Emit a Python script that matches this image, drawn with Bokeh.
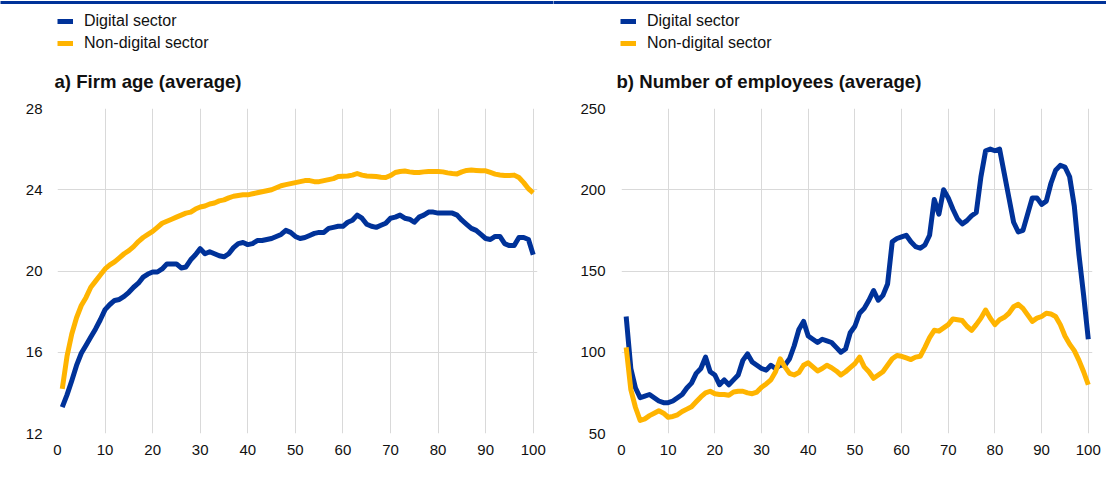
from bokeh.plotting import figure
from bokeh.models import Label, Legend, LegendItem, BoxAnnotation, FixedTicker, Range1d
from bokeh.layouts import row, column
from bokeh.embed import file_html
from bokeh.resources import INLINE

# ---------------- data ----------------
percentile = list(range(1, 101))

age_digital = [13.3, 13.9, 14.6, 15.35, 15.95, 16.35, 16.75, 17.15, 17.6, 18.1,
               18.35, 18.55, 18.6, 18.75, 18.95, 19.2, 19.4, 19.7, 19.85, 19.95,
               19.95, 20.1, 20.35, 20.35, 20.35, 20.15, 20.2, 20.55, 20.8, 21.1,
               20.85, 20.95, 20.85, 20.75, 20.7, 20.85, 21.15, 21.35, 21.4, 21.3,
               21.35, 21.5, 21.5, 21.55, 21.6, 21.7, 21.8, 22.0, 21.9, 21.7,
               21.6, 21.65, 21.75, 21.85, 21.9, 21.9, 22.1, 22.15, 22.2, 22.2,
               22.4, 22.5, 22.75, 22.6, 22.3, 22.2, 22.15, 22.25, 22.35, 22.6,
               22.65, 22.75, 22.6, 22.55, 22.4, 22.65, 22.75, 22.9, 22.9, 22.85,
               22.85, 22.85, 22.85, 22.75, 22.5, 22.3, 22.1, 22.0, 21.8, 21.6,
               21.55, 21.7, 21.7, 21.35, 21.25, 21.25, 21.65, 21.65, 21.55, 20.8]

age_nondigital = [14.2, 15.8, 16.9, 17.7, 18.3, 18.7, 19.2, 19.5, 19.8, 20.1,
                  20.3, 20.45, 20.65, 20.85, 21.0, 21.2, 21.45, 21.65, 21.8, 21.95,
                  22.15, 22.35, 22.45, 22.55, 22.65, 22.75, 22.85, 22.9, 23.05, 23.15,
                  23.2, 23.3, 23.35, 23.45, 23.5, 23.6, 23.68, 23.72, 23.75, 23.75,
                  23.8, 23.85, 23.9, 23.95, 24.0, 24.1, 24.2, 24.25, 24.3, 24.35,
                  24.4, 24.45, 24.45, 24.4, 24.4, 24.45, 24.5, 24.55, 24.65, 24.67,
                  24.68, 24.72, 24.8, 24.72, 24.68, 24.67, 24.65, 24.62, 24.6, 24.7,
                  24.85, 24.9, 24.92, 24.88, 24.85, 24.85, 24.88, 24.9, 24.9, 24.9,
                  24.88, 24.83, 24.8, 24.78, 24.88, 24.95, 24.97, 24.95, 24.93, 24.93,
                  24.85, 24.77, 24.73, 24.7, 24.7, 24.72, 24.6, 24.35, 24.05, 23.85]

emp_digital = [122, 90, 78, 72, 73, 74, 72, 70, 69, 69,
               70, 72, 74, 78, 81, 87, 90, 97, 88, 86,
               80, 83, 80, 83, 86, 95, 99, 94, 92, 90,
               89, 92, 90, 92, 92, 96, 104, 114, 119, 110,
               108, 106, 108, 107, 106, 103, 100, 102, 112, 116,
               124, 127, 132, 138, 132, 135, 142, 168, 170, 171,
               172, 168, 165, 164, 166, 172, 194, 185, 200, 195,
               188, 182, 179, 181, 184, 186, 208, 224, 225, 224,
               225, 210, 195, 180, 174, 175, 185, 195, 195, 191,
               193, 204, 212, 215, 214, 208, 190, 160, 135, 108]

emp_nondigital = [103, 77, 66, 58, 59, 61, 62.5, 64, 62.5, 60,
                  60.5, 61.5, 63.5, 65, 66.5, 69.5, 72.5, 75, 76, 74.5,
                  74, 74, 73.5, 75.5, 76, 76, 75, 74.5, 75.5, 78.5,
                  80.5, 83, 88, 96, 91, 87, 86, 87.5, 92, 93.5,
                  91, 88.5, 90, 92, 90.5, 88.5, 86, 88, 90.5, 93,
                  97, 91, 88, 84, 86, 88, 92, 96, 98, 97.5,
                  96.5, 95.5, 97, 97.5, 103, 109, 113.5, 113, 115, 117,
                  120.5, 120, 119.5, 116, 113.5, 117, 121, 126, 121, 117,
                  120, 121.5, 124, 128, 129.5, 127, 123, 119, 121, 122,
                  124, 123.5, 122, 117, 110, 105, 101, 95, 88, 80]

series_names = ["Digital sector", "Non-digital sector"]
panel_titles = ["a) Firm age (average)", "b) Number of employees (average)"]
x_ticks = list(range(0, 101, 10))
age_ticks = [12, 16, 20, 24, 28]
emp_ticks = [50, 100, 150, 200, 250]

BLUE = "#003299"
YELLOW = "#FFB400"
FONT = "Liberation Sans"
GRID = "#d9d9d9"
TEXT = "#111111"

PANEL_W = 553
HEAD_H = 100
MAIN_H = 379
FRAME_H = 325
TOP = 8
BOTTOM = MAIN_H - FRAME_H - TOP


def make_header(title, legend_x, title_x):
    h = figure(width=PANEL_W, height=HEAD_H, output_backend="svg", toolbar_location=None,
               x_range=Range1d(0, PANEL_W), y_range=Range1d(0, HEAD_H),
               x_axis_type=None, y_axis_type=None, frame_align=False,
               min_border=0, min_border_left=0, min_border_right=0,
               min_border_top=0, min_border_bottom=0)
    h.outline_line_color = None
    h.grid.visible = False
    h.background_fill_color = "white"
    h.border_fill_color = "white"

    # rule across the top of the chart
    h.add_layout(BoxAnnotation(left=-10, right=PANEL_W + 10, top=99.5, bottom=96.6,
                               fill_color=BLUE, fill_alpha=1, line_color=None))

    # legend swatch renderers (placed outside the visible range)
    d1 = h.line([-20, -10], [-20, -20], line_color=BLUE, line_width=5)
    d2 = h.line([-20, -10], [-20, -20], line_color=YELLOW, line_width=5)
    legend = Legend(items=[LegendItem(label=series_names[0], renderers=[d1]),
                           LegendItem(label=series_names[1], renderers=[d2])],
                    location=(legend_x, 47), orientation="vertical",
                    border_line_color=None, background_fill_alpha=0,
                    padding=0, margin=0, spacing=2,
                    glyph_width=16, glyph_height=20, label_height=20,
                    label_standoff=11, label_text_font=FONT,
                    label_text_font_size="16px", label_text_color=TEXT)
    h.add_layout(legend, "center")

    h.add_layout(Label(x=title_x, y=19, text=title,
                       text_font=FONT, text_font_size="18.6px", text_font_style="bold",
                       text_baseline="middle", text_align="left", text_color=TEXT))
    return h


def make_panel(yd, yn, y_ticks, border_left, border_right, ylab_standoff):
    p = figure(width=PANEL_W, height=MAIN_H, output_backend="svg", toolbar_location=None,
               x_range=Range1d(0, 100.9), y_range=Range1d(y_ticks[0], y_ticks[-1]),
               frame_align=False,
               min_border_left=border_left, min_border_right=border_right,
               min_border_top=TOP, min_border_bottom=BOTTOM)
    p.outline_line_color = None
    p.background_fill_color = "white"
    p.border_fill_color = "white"

    for ax in (p.xaxis[0], p.yaxis[0]):
        ax.axis_line_color = None
        ax.major_tick_line_color = None
        ax.minor_tick_line_color = None
        ax.major_tick_out = 0
        ax.major_tick_in = 0
        ax.minor_tick_out = 0
        ax.major_label_text_font = FONT
        ax.major_label_text_font_size = "15px"
        ax.major_label_text_color = TEXT
    p.xaxis[0].ticker = FixedTicker(ticks=x_ticks)
    p.yaxis[0].ticker = FixedTicker(ticks=y_ticks)
    p.xaxis[0].major_label_standoff = 11
    p.yaxis[0].major_label_standoff = ylab_standoff

    p.xgrid[0].ticker = FixedTicker(ticks=x_ticks)
    p.ygrid[0].ticker = FixedTicker(ticks=y_ticks)
    p.xgrid.grid_line_color = GRID
    p.ygrid.grid_line_color = GRID
    p.xgrid.grid_line_width = 1
    p.ygrid.grid_line_width = 1

    p.line(percentile, yd, line_color=BLUE, line_width=5, line_join="round")
    p.line(percentile, yn, line_color=YELLOW, line_width=5, line_join="round")
    return p


h1 = make_header(panel_titles[0], 57, 54)
h2 = make_header(panel_titles[1], 67, 63)
p1 = make_panel(age_digital, age_nondigital, age_ticks, 57, 16, 15)
p2 = make_panel(emp_digital, emp_nondigital, emp_ticks, 68, 14, 16)

layout = row(column(h1, p1, spacing=0), column(h2, p2, spacing=0), spacing=0)

open("out.html", "w").write(file_html(layout, INLINE))
